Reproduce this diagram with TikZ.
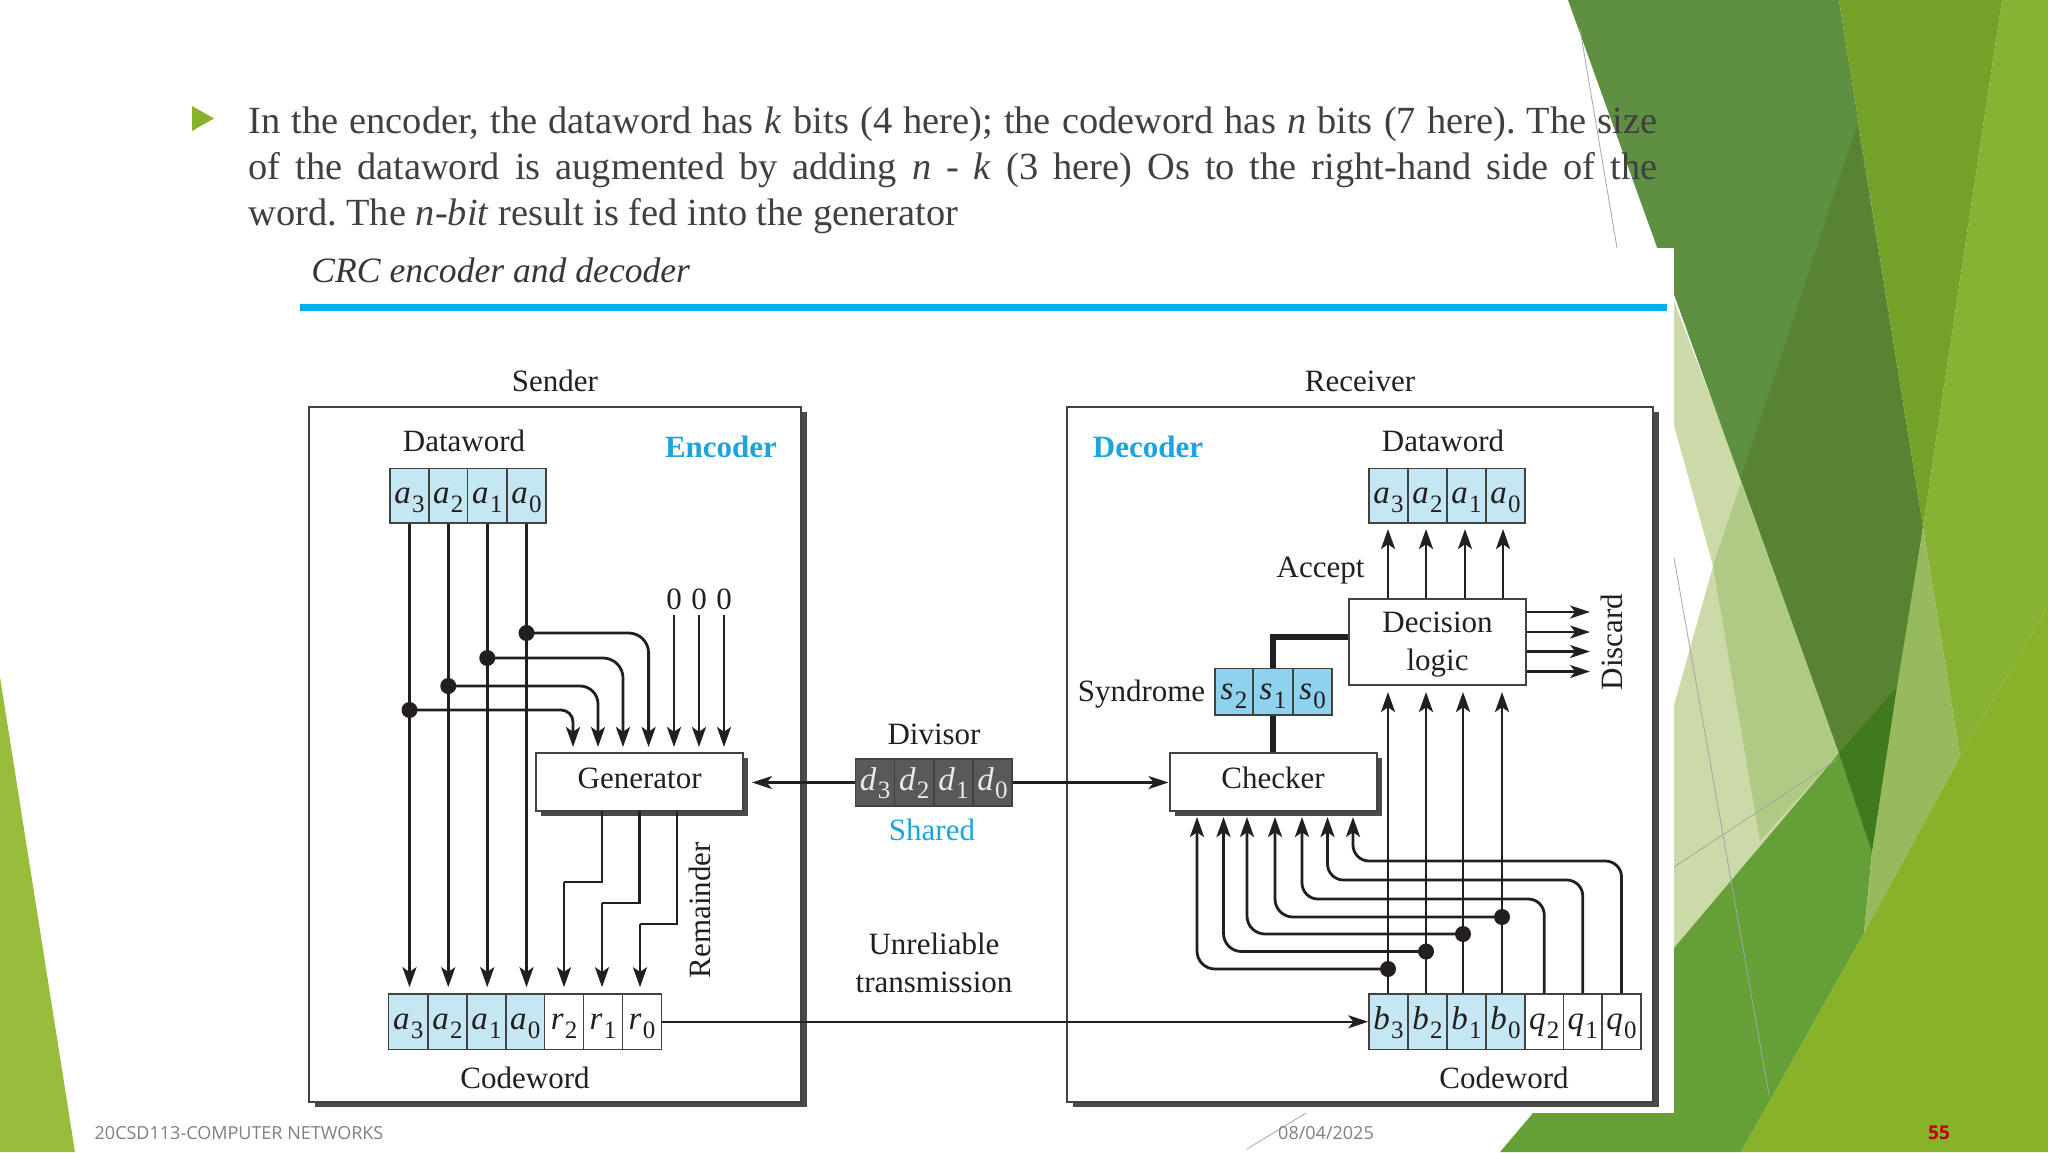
\documentclass[tikz,border=0pt]{standalone}
\usepackage{fontspec}
\setmainfont{Liberation Serif}
\newfontfamily\footf{Open Sans}
\usetikzlibrary{arrows.meta,shadows,calc}
\definecolor{ink}{HTML}{231F20}
\definecolor{bodytx}{HTML}{404040}
\definecolor{cyanhd}{HTML}{1BA5DC}
\definecolor{rulec}{HTML}{00AEEF}
\definecolor{cellb}{HTML}{C5E6F3}
\definecolor{cells}{HTML}{8FD2EE}
\definecolor{celld}{HTML}{58595B}
\definecolor{shad}{HTML}{4A4A4C}
\definecolor{gDark}{HTML}{5F8F40}
\definecolor{gDarker}{HTML}{578333}
\definecolor{gDeep}{HTML}{3F7A1E}
\definecolor{gOlive}{HTML}{74A127}
\definecolor{gRight}{HTML}{87B233}
\definecolor{gPale}{HTML}{CBDAA8}
\definecolor{gMed}{HTML}{B0C985}
\definecolor{gTrans}{HTML}{97BA5F}
\definecolor{gMid}{HTML}{649F38}
\definecolor{gBright}{HTML}{88B22A}
\definecolor{gLeft}{HTML}{97BD3A}
\tikzset{
  lbl/.style={text=ink,font=\fontsize{15.5}{18}\selectfont,inner sep=0pt},
  cell/.style={draw=ink!85,line width=0.8pt,inner sep=0pt,text=ink,
    font=\fontsize{16.5}{18}\selectfont,text height=10pt,text depth=2pt},
  cb/.style={fill=cellb},
  cw/.style={fill=white},
  cs/.style={fill=cells},
  cd/.style={fill=celld,text=white!92!black},
  frame/.style={draw=ink!85,fill=white,line width=1pt,inner sep=0pt},
  shadowed/.style={general shadow={fill=shad,draw=none,shadow xshift=#1,shadow yshift=-2.5pt}},
  wire/.style={draw=ink,line width=1.4pt},
  arr/.style={wire,-{Stealth[length=10pt,width=7pt,inset=2.4pt]},shorten >=3pt},
  thin arr/.style={draw=ink,line width=1.1pt,-{Stealth[length=10pt,width=6.5pt,inset=2.6pt]}},
  dot/.style={circle,fill=ink,inner sep=0pt,minimum size=8pt},
  thick wire/.style={draw=ink,line width=3.3pt},
  hair/.style={draw=gray!70,line width=0.4pt},
}
\newcommand{\cellbox}[7]{\node[cell,#6,minimum width={(#3-#2)*0.5pt},minimum height={(#5-#4)*0.5pt}] (#1) at ({(#2+#3)/2},{(#4+#5)/2}) {#7};}
\newcommand{\bitt}[2]{\textit{#1}\kern0.6pt\raisebox{-0.55ex}{\fontsize{12.5}{13}\selectfont #2}}
\newcommand{\bodyline}[3]{\node[anchor=base west,inner sep=0pt,text=bodytx,font=\fontsize{19.2}{22}\selectfont\frenchspacing] (#1) at #2 {#3};}
\begin{document}
\begin{tikzpicture}[x=0.5pt,y=-0.5pt]
\useasboundingbox (0,0) rectangle (2048,1152);
% ---------- slide background
\fill[white] (0,0) rectangle (2048,1152);
\fill[gLeft] (0,677) -- (75,1152) -- (0,1152) -- cycle;
\fill[gPale] (1674,301) -- (1741,478) -- (1839,753) -- (1674,948) -- cycle;
\fill[white] (1674,426) -- (1713,566) -- (1674,705) -- cycle;
\fill[gMed] (1713,566) -- (1741,483) -- (1839,753) -- (1760,841) -- cycle;
\fill[gMid] (1674,948) -- (1839,753) -- (1872,852) -- (1864,933) -- (1741,1152) -- (1500,1152) -- (1533,1113) -- cycle;
\fill[gDark] (1568,0) -- (1839,0) -- (1923,527) -- (1872,852) -- (1839,753) -- cycle;
\fill[gDarker] (1857,125) -- (1923,527) -- (1872,852) -- (1839,753) -- (1741,478) -- cycle;
\fill[gDeep] (1839,753) -- (1897,687) -- (1872,852) -- cycle;
\fill[gOlive] (1839,0) -- (2002,0) -- (1923,527) -- cycle;
\fill[gRight] (2002,0) -- (2048,0) -- (2048,606) -- (1960,757) -- (1923,527) -- cycle;
\fill[gTrans] (1923,527) -- (1960,757) -- (1864,933) -- (1872,852) -- (1897,687) -- cycle;
\fill[gBright] (2048,606) -- (2048,1152) -- (1741,1152) -- (1864,933) -- (1960,757) -- cycle;
\draw[hair] (1580,29) -- (1617,248);
\draw[hair] (1674,558) -- (1769,1095);
\draw[hair] (1674,867) -- (1836,760);
\draw[hair] (1247,1149) -- (1306,1113);
% ---------- bullet text
\fill[gBright] (192,106) -- (214,118.5) -- (192,131) -- cycle;
\bodyline{t1}{(248,133)}{\makebox[704.5pt][s]{In the encoder, the dataword has \textit{k} bits (4 here); the codeword has \textit{n} bits (7 here). The size}}
\bodyline{t2}{(248,179)}{\makebox[704.5pt][s]{of the dataword is augmented by adding \textit{n} - \textit{k} (3 here) Os to the right-hand side of the}}
\bodyline{t3}{(248,225)}{word. The \textit{n-bit} result is fed into the generator}
% ---------- figure sheet
\fill[white] (290,248) rectangle (1674,1113);
\node[anchor=west,inner sep=0pt,text=ink!90,font=\fontsize{17.8}{20}\selectfont\itshape] (title) at (311,270) {CRC encoder and decoder};
\fill[rulec] (300,303.5) rectangle (1667,310.5);
% ---------- boxes
\node[frame,shadowed=3pt,minimum width=246pt,minimum height=347.5pt] (sender) at (555,754.5) {};
\node[frame,shadowed=3pt,minimum width=293pt,minimum height=347.5pt] (receiver) at (1360,754.5) {};
\node[lbl] (lsend) at (555,381) {Sender};
\node[lbl] (lrecv) at (1360,381) {Receiver};
\node[lbl,text=cyanhd,font=\fontsize{15.5}{18}\selectfont\bfseries] (lenc) at (721,447) {Encoder};
\node[lbl,text=cyanhd,font=\fontsize{15.5}{18}\selectfont\bfseries] (ldec) at (1148,447) {Decoder};
\node[lbl] (ldw1) at (464,441) {Dataword};
\node[lbl] (ldw2) at (1443,441) {Dataword};
\node[lbl] (lcw1) at (525,1078) {Codeword};
\node[lbl] (lcw2) at (1504,1078) {Codeword};
% sender cells
\cellbox{da3}{390}{429}{468.5}{523}{cb}{\bitt{a}{3}}
\cellbox{da2}{429}{467.5}{468.5}{523}{cb}{\bitt{a}{2}}
\cellbox{da1}{467.5}{507}{468.5}{523}{cb}{\bitt{a}{1}}
\cellbox{da0}{507}{546}{468.5}{523}{cb}{\bitt{a}{0}}
\cellbox{ca3}{388.6}{428}{994}{1049.5}{cb}{\bitt{a}{3}}
\cellbox{ca2}{428}{467}{994}{1049.5}{cb}{\bitt{a}{2}}
\cellbox{ca1}{467}{506}{994}{1049.5}{cb}{\bitt{a}{1}}
\cellbox{ca0}{506}{544.6}{994}{1049.5}{cb}{\bitt{a}{0}}
\cellbox{cr2}{544.6}{583.6}{994}{1049.5}{cw}{\bitt{r}{2}}
\cellbox{cr1}{583.6}{622.5}{994}{1049.5}{cw}{\bitt{r}{1}}
\cellbox{cr0}{622.5}{661.4}{994}{1049.5}{cw}{\bitt{r}{0}}
% generator
\node[frame,shadowed=2.5pt,minimum width=103.3pt,minimum height=29pt,lbl,draw=ink!85,text depth=4pt] (gen) at (639.7,782) {Generator};
\foreach \n/\x in {1/573,2/598,3/623,4/648.6,5/674,6/699,7/724}{\coordinate (gi\n) at (\x,753);}
\node[dot] (j3) at (da3.south |- 0,710) {};
\node[dot] (j2) at (da2.south |- 0,686) {};
\node[dot] (j1) at (da1.south |- 0,658) {};
\node[dot] (j0) at (da0.south |- 0,633) {};
\foreach \n in {3,2,1,0}{\draw[arr] (da\n.south) -- (da\n.south |- ca\n.north);}
\draw[arr,rounded corners=6pt] (j3.center) -| (gi1);
\draw[arr,rounded corners=9pt] (j2.center) -| (gi2);
\draw[arr,rounded corners=10pt] (j1.center) -| (gi3);
\draw[arr,rounded corners=10pt] (j0.center) -| (gi4);
\node[lbl] (z1) at (674,599) {0};
\node[lbl] (z2) at (699,599) {0};
\node[lbl] (z3) at (724,599) {0};
\draw[arr] (z1 |- 0,615) -- (gi5);
\draw[arr] (z2 |- 0,615) -- (gi6);
\draw[arr] (z3 |- 0,615) -- (gi7);
\coordinate (go1) at (602,811);
\coordinate (go2) at (639.5,811);
\coordinate (go3) at (677,811);
\coordinate (k1) at (564,882);
\coordinate (k2) at (602,903);
\coordinate (k3) at (640,924);
\draw[wire] (go1) |- (k1);
\draw[arr] (k1) -- (k1 |- cr2.north);
\draw[wire] (go2) |- (k2);
\draw[arr] (k2) -- (k2 |- cr1.north);
\draw[wire] (go3) |- (k3);
\draw[arr] (k3) -- (k3 |- cr0.north);
\node[lbl,rotate=90] (lrem) at (700,910) {Remainder};
% divisor
\node[lbl] (ldiv) at (934,734) {Divisor};
\cellbox{dv3}{855.6}{894.6}{759}{806}{cd}{\bitt{d}{3}}
\cellbox{dv2}{894.6}{934}{759}{806}{cd}{\bitt{d}{2}}
\cellbox{dv1}{934}{973}{759}{806}{cd}{\bitt{d}{1}}
\cellbox{dv0}{973}{1012}{759}{806}{cd}{\bitt{d}{0}}
\node[lbl,text=cyanhd] (lshare) at (932,830) {Shared};
\node[lbl] (lun1) at (934,944) {Unreliable};
\node[lbl] (lun2) at (934,982) {transmission};
\draw[thin arr,shorten >=4pt] (dv3.west) -- (dv3.west -| gen.east);
% receiver cells
\cellbox{ra3}{1369}{1408}{468.5}{523}{cb}{\bitt{a}{3}}
\cellbox{ra2}{1408}{1447}{468.5}{523}{cb}{\bitt{a}{2}}
\cellbox{ra1}{1447}{1486}{468.5}{523}{cb}{\bitt{a}{1}}
\cellbox{ra0}{1486}{1525}{468.5}{523}{cb}{\bitt{a}{0}}
\cellbox{rb3}{1369}{1408}{994}{1049.5}{cb}{\bitt{b}{3}}
\cellbox{rb2}{1408}{1447}{994}{1049.5}{cb}{\bitt{b}{2}}
\cellbox{rb1}{1447}{1486}{994}{1049.5}{cb}{\bitt{b}{1}}
\cellbox{rb0}{1486}{1525}{994}{1049.5}{cb}{\bitt{b}{0}}
\cellbox{rq2}{1525}{1563.5}{994}{1049.5}{cw}{\bitt{q}{2}}
\cellbox{rq1}{1563.5}{1602}{994}{1049.5}{cw}{\bitt{q}{1}}
\cellbox{rq0}{1602}{1641}{994}{1049.5}{cw}{\bitt{q}{0}}
\draw[thin arr] (cr0.east) -- (rb3.west);
% checker, syndrome, decision
\node[frame,shadowed=2.5pt,minimum width=103.5pt,minimum height=29pt,lbl,draw=ink!85,text depth=4pt] (chk) at (1273,782) {Checker};
\draw[thin arr] (dv0.east) -- (dv0.east -| chk.west);
\node[frame,draw=ink!85,minimum width=88.5pt,minimum height=43pt,lbl,align=center] (dl) at (1437.5,642) {\rule{0pt}{13.1pt}Decision\\[1pt]logic};
\cellbox{s2}{1215}{1253}{668.5}{715}{cs}{\bitt{s}{2}}
\cellbox{s1}{1253}{1293}{668.5}{715}{cs}{\bitt{s}{1}}
\cellbox{s0}{1293}{1332}{668.5}{715}{cs}{\bitt{s}{0}}
\node[lbl] (lsyn) at (1141.5,694) {Syndrome};
\node[lbl] (lacc) at (1320.5,571) {Accept};
\node[lbl,rotate=90] (ldis) at (1612,642) {Discard};
\coordinate (syntop) at (1273,637);
\draw[thick wire] (chk.north) -- (s1.south);
\draw[thick wire] (s1.north) -- (syntop) -- (syntop -| dl.west);
\foreach \n/\y in {1/612,2/632,3/651.5,4/671.5}{
  \coordinate (dx\n) at (1590,\y);
  \draw[thin arr] (dl.east |- dx\n) -- (dx\n);
}
\foreach \n/\x in {3/1388,2/1426,1/1465,0/1503}{
  \coordinate (u\n) at (\x,523);
  \draw[arr] (u\n |- dl.north) -- (u\n);
}
\node[dot] (jb3) at (1388,969) {};
\node[dot] (jb2) at (1426,951.5) {};
\node[dot] (jb1) at (1463,934) {};
\node[dot] (jb0) at (1502,917) {};
\foreach \n in {3,2,1,0}{\draw[arr] (jb\n |- rb\n.north) -- (jb\n |- dl.south);}
\foreach \n/\x in {1/1197,2/1223.5,3/1247,4/1275,5/1302,6/1327.5,7/1353}{\coordinate (ci\n) at (\x,811);}
\draw[arr,rounded corners=9pt] (jb3.center) -| (ci1);
\draw[arr,rounded corners=9pt] (jb2.center) -| (ci2);
\draw[arr,rounded corners=9pt] (jb1.center) -| (ci3);
\draw[arr,rounded corners=9pt] (jb0.center) -| (ci4);
\coordinate (h5) at (ci5 |- 0,899);
\coordinate (h6) at (ci6 |- 0,880);
\coordinate (h7) at (ci7 |- 0,861);
\draw[arr,rounded corners=8pt] (rq2.north) |- (h5) -- (ci5);
\draw[arr,rounded corners=8pt] (rq1.north) |- (h6) -- (ci6);
\draw[arr,rounded corners=8pt] (rq0.north) |- (h7) -- (ci7);
% ---------- footer
\node[inner sep=0pt,text=gray,font=\footf\fontsize{9}{11}\selectfont] (foot1) at (239,1133) {20CSD113-COMPUTER NETWORKS};
\node[inner sep=0pt,text=gray,font=\footf\fontsize{9}{11}\selectfont] (foot2) at (1326,1133) {08/04/2025};
\node[inner sep=0pt,text=red!75!black,font=\footf\fontsize{9.5}{11}\selectfont\bfseries] (foot3) at (1939,1133) {55};
\end{tikzpicture}
\end{document}
